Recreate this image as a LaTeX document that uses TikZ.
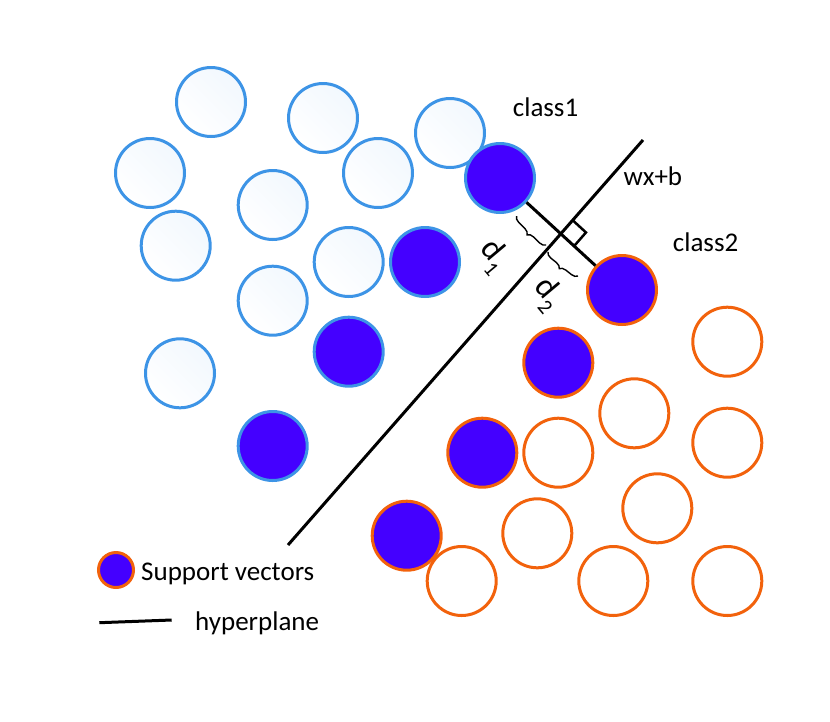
\documentclass[tikz,border=0pt]{standalone}
\usepackage{fontspec}
\setmainfont{Carlito}
\usetikzlibrary{decorations.pathreplacing,calc}
\definecolor{svfill}{HTML}{4400FF}
\definecolor{blueline}{HTML}{3D94E6}
\definecolor{orangeline}{HTML}{F2620C}
\definecolor{paleblue}{HTML}{F2F8FE}
\newcommand{\dlab}[1]{d\raisebox{-0.3em}{\fontsize{21}{21}\selectfont #1}}
\begin{document}
\begin{tikzpicture}[x=1pt,y=-1pt,
  dot/.style={circle,minimum size=69pt,inner sep=0pt,line width=3pt},
  bopen/.style={dot,draw=blueline,shading=axis,left color=white,right color=paleblue,shading angle=135},
  bsv/.style={dot,draw=blueline,fill=svfill},
  oopen/.style={dot,draw=orangeline,fill=white},
  osv/.style={dot,draw=orangeline,fill=svfill},
  lab/.style={font=\fontsize{27}{32}\selectfont,inner sep=0pt},
  dl/.style={font=\fontsize{33}{36}\selectfont,inner sep=0pt,rotate=-50},
  bline/.style={line width=3pt,black},
  brc/.style={line width=1.4pt,decorate,decoration={brace,amplitude=6pt}}]
\useasboundingbox (0,0) rectangle (830,721);
% class 1 open
\node[bopen] (b1) at (211,102) {};
\node[bopen] (b2) at (323,118) {};
\node[bopen] (b3) at (450,133) {};
\node[bopen] (b4) at (150,173) {};
\node[bopen] (b5) at (378,173) {};
\node[bopen] (b6) at (272.7,205) {};
\node[bopen] (b7) at (175.7,245.7) {};
\node[bopen] (b8) at (348.7,262) {};
\node[bopen] (b9) at (272.7,300.7) {};
\node[bopen] (b10) at (180,373.3) {};
% class 1 filled
\node[bsv] (sv1) at (500,178) {};
\node[bsv] (bf2) at (425,262) {};
\node[bsv] (bf3) at (348.7,351.7) {};
\node[bsv] (bf4) at (272.7,446) {};
% class 2 open
\node[oopen] (o1) at (727.3,341.7) {};
\node[oopen] (o2) at (634.3,413.3) {};
\node[oopen] (o3) at (558.3,452.7) {};
\node[oopen] (o4) at (727.3,442.7) {};
\node[oopen] (o5) at (657.3,508.3) {};
\node[oopen] (o6) at (537.3,533.3) {};
\node[oopen] (o7) at (461.7,581) {};
\node[oopen] (o8) at (613.3,581) {};
\node[oopen] (o9) at (727.3,581) {};
% class 2 filled
\node[osv] (sv2) at (622,290) {};
\node[osv] (of2) at (558.3,362.7) {};
\node[osv] (of3) at (482.3,452.7) {};
\node[osv] (of4) at (406.7,535.7) {};
% hyperplane
\coordinate (hp1) at (288,545);
\coordinate (hp2) at (643,140);
\draw[bline] (hp1) -- (hp2);
% margin segment
\draw[bline] (sv1) -- (sv2);
\coordinate (I) at (intersection of hp1--hp2 and sv1--sv2);
\coordinate (c1) at ($(I)!18pt!(hp2)$);
\coordinate (c3) at ($(I)!18pt!(sv2)$);
\coordinate (c2) at ($(c1)+(c3)-(I)$);
\draw[line width=2.5pt] (c1) -- (c2) -- (c3);
% braces
\coordinate (d1a) at (516.5,216);
\coordinate (d1b) at (546,245);
\coordinate (d2a) at (548,252);
\coordinate (d2b) at (578,276);
\draw[brc] (d1b) -- (d1a);
\draw[brc] (d2b) -- (d2a);
\node[dl] (d1) at (493,256) {\dlab{1}};
\node[dl] (d2) at (547,294) {\dlab{2}};
% labels
\node[lab,anchor=base west] (c1lab) at (512.7,116.7) {class1};
\node[lab,anchor=base west] (c2lab) at (672.7,251.7) {class2};
\node[lab,anchor=base west] (hplab) at (623.3,185) {wx+b};
% legend
\node[osv,minimum size=35pt] (lsv) at (116,570) {};
\node[lab,anchor=base west] (lsvt) at (141,580) {Support vectors};
\coordinate (l1) at (99.3,622.7);
\coordinate (l2) at (171.7,620);
\draw[bline] (l1) -- (l2);
\node[lab,anchor=base west] (lhp) at (195,630) {hyperplane};
\end{tikzpicture}
\end{document}
